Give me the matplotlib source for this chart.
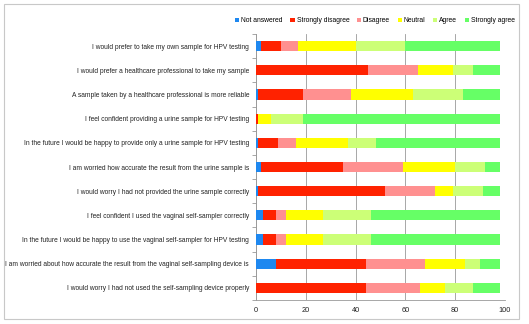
import matplotlib.pyplot as plt
from matplotlib.patches import Rectangle

plt.rcParams['font.family'] = ['Liberation Sans Narrow', 'Liberation Sans', 'DejaVu Sans']

statements = [
    "I would prefer to take my own sample for HPV testing",
    "I would prefer a healthcare professional to take my sample",
    "A sample taken by a healthcare professional is more reliable",
    "I feel confident providing a urine sample for HPV testing",
    "In the future I would be happy to provide only a urine sample for HPV testing",
    "I am worried how accurate the result from the urine sample is",
    "I would worry I had not provided the urine sample correctly",
    "I feel confident I used the vaginal self-sampler correctly",
    "In the future I would be happy to use the vaginal self-sampler for HPV testing",
    "I am worried about how accurate the result from the vaginal self-sampling device is",
    "I would worry I had not used the self-sampling device properly",
]

not_answered = [2, 0, 1, 0, 1, 2, 1, 3, 3, 8, 0]
strongly_disagree = [8, 45, 18, 1, 8, 33, 51, 5, 5, 36, 44]
disagree = [7, 20, 19, 0, 7, 24, 20, 4, 4, 24, 22]
neutral = [23, 14, 25, 5, 21, 21, 7, 15, 15, 16, 10]
agree = [20, 8, 20, 13, 11, 12, 12, 19, 19, 6, 11]
strongly_agree = [38, 11, 15, 79, 50, 6, 7, 52, 52, 8, 11]

series = [
    ("Not answered", not_answered, "#1e88f0"),
    ("Strongly disagree", strongly_disagree, "#ff2200"),
    ("Disagree", disagree, "#ff9090"),
    ("Neutral", neutral, "#ffff00"),
    ("Agree", agree, "#ccff77"),
    ("Strongly agree", strongly_agree, "#66ff66"),
]

fig = plt.figure(figsize=(5.29, 3.24), dpi=100)
fig.patches.append(Rectangle((4 / 529, 5 / 324), 515 / 529, 315 / 324,
                             transform=fig.transFigure, fill=False,
                             edgecolor="#c8c8c8", linewidth=0.8))
ax = fig.add_axes([256 / 529, 1 - 300 / 324, 249 / 529, 266 / 324])

ypos = list(range(len(statements)))
left = [0] * len(statements)
for name, vals, col in series:
    ax.barh(ypos, vals, left=left, height=0.42, color=col, label=name, zorder=3)
    left = [l + v for l, v in zip(left, vals)]

ax.set_xlim(0, 100)
ax.set_ylim(len(statements) - 0.5, -0.5)
ax.set_xticks(range(0, 101, 20))
ax.set_yticks(ypos)
ax.set_yticklabels(statements, fontsize=4.75, color="#222222")
ax.set_yticks([i - 0.5 for i in range(len(statements) + 1)], minor=True)
ax.tick_params(axis="y", which="major", length=0, pad=5)
ax.tick_params(axis="y", which="minor", length=3, color="#999999")
ax.tick_params(axis="x", labelsize=5.3, length=0, pad=5, colors="#222222")
ax.grid(axis="x", color="#999999", linewidth=0.6, zorder=0)
for s in ["top", "right"]:
    ax.spines[s].set_visible(False)
for s in ["left", "bottom"]:
    ax.spines[s].set_color("#999999")
    ax.spines[s].set_linewidth(0.6)

fig.legend(loc="center", bbox_to_anchor=(375 / 529, 1 - 21 / 324), ncol=6,
           fontsize=4.9, frameon=False, handlelength=0.6, handleheight=0.6,
           handletextpad=0.3, columnspacing=1.1)

fig.savefig("out.png", dpi=100)
